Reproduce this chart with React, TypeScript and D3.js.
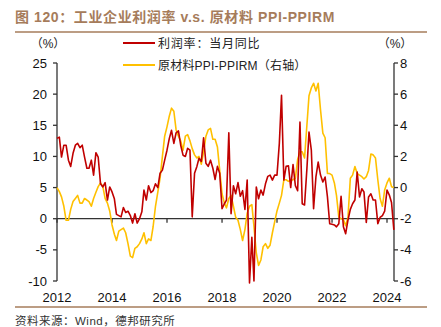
import React from "react";
import * as d3 from "d3";

const startMonth = new Date(2012, 0, 1);

const profitYoY: number[] = [
  12.9, 13.1, 9.9, 11.8, 11.8, 9.4, 8.4, 10.5, 11.8, 12.1, 11.4, 11.8,
  9.9, 8.1, 8.1, 9.4, 7.0, 10.6, 9.9, 5.6, 5.1, 5.8, 3.0, 5.1,
  4.3, 3.2, 0.7, 0.5, 0.3, 1.8, 1.0, 1.2, 0.5, -0.7, 0.8, -0.7,
  0.0, 1.1, 4.6, 3.0, 5.3, 4.2, 4.5, 5.6, 5.0, 7.3, 7.8, 9.4,
  11.0, 12.9, 14.2, 12.1, 13.8, 14.1, 11.8, 10.2, 10.0, 11.3, 11.0, 0.3,
  7.3, 8.4, 9.7, 9.2, 13.0, 8.9, 8.4, 9.4, 8.1, 6.3, 8.4, 7.3,
  1.6, 2.4, 3.0, 13.8, 0.8, 5.3, 4.0, 5.8, 3.6, 4.5, 1.5, 6.2,
  -10.3, -3.0, -10.0, 5.1, 3.2, 4.6, 3.8, 5.6, 6.8, 7.0, 6.2, 7.0,
  7.0, 12.1, 19.8, 6.2, 8.4, 8.5, 5.0, 8.7, 5.3, 4.5, 15.5, 2.4,
  2.2, 8.0, 13.9, 11.0, 1.6, 6.7, 9.1, 7.0, 5.9, 6.7, 3.5, -0.8,
  -0.9, -1.0, -1.3, -0.8, 3.6, -1.3, -2.4, -0.2, 1.5, 2.4, 3.0, 7.5,
  3.5, 4.8, 4.3, -0.6, 3.5, 4.0, 3.0, 3.0, -0.8, 0.2, 0.5, 1.2,
  4.6, 3.8, 2.6, -1.8,
];

const ppiPpirm: number[] = [
  0.0, -0.26, -0.6, -1.2, -2.1, -2.1, -1.4, -0.9, -0.7, -0.5, -1.0, -1.0,
  -0.7, -0.8, -0.9, -1.2, -0.7, -0.3, 0.06, 0.3, 0.06, -0.7, -1.0, -1.5,
  -2.4, -3.0, -3.4, -2.8, -2.7, -2.6, -2.9, -3.6, -4.4, -4.5, -3.9, -3.8,
  -3.6, -3.3, -2.9, -3.6, -3.3, -3.4, -2.5, -1.2, -0.3, 0.6, 2.0, 3.3,
  3.9, 4.6, 5.1, 4.9, 3.7, 3.3, 3.0, 2.4, 3.3, 3.4, 3.0, 2.5,
  2.1, 1.9, 2.0, 1.5, 2.3, 3.3, 3.7, 3.8, 3.1, 3.1, 2.6, 1.1,
  -0.4, -1.0, -1.3, -0.7, -0.5, -1.2, -1.9, -2.1, -2.7, -3.4, -2.7, -1.65,
  -1.2, -1.1, -2.5, -4.2, -5.0, -4.65, -3.8, -3.6, -3.9, -3.7, -2.9, -2.2,
  -1.5, -1.0, -0.5, 0.5, 0.5, 0.4, 0.45, 0.5, 0.6, 1.8, 2.3, 2.3,
  1.9, 4.0, 5.9, 6.4, 6.7, 6.2, 6.7, 5.0, 3.5, 3.2, 0.9, 0.9,
  0.8, 0.3, -0.5, -1.9, -2.0, -2.05, -2.45, -1.9, 0.6, 0.8, 1.35, 0.9,
  0.8, 0.7, 0.55, 0.7, 1.1, 2.15, 2.1, 1.9, 0.5, -0.7, -1.2, -0.15,
  0.3, 0.6, 0.06, 0.0,
];

const leftTicks = [25, 20, 15, 10, 5, 0, -5, -10];
const rightTicks = [8, 6, 4, 2, 0, -2, -4, -6];
const yearTicks = [2012, 2014, 2016, 2018, 2020, 2022, 2024];

const titleText = "图 120：工业企业利润率 v.s. 原材料 PPI-PPIRM";
const legendRed = "利润率：当月同比";
const legendYellow = "原材料PPI-PPIRM（右轴）";
const sourceText = "资料来源：Wind，德邦研究所";

const RED = "#C00000";
const YELLOW = "#FFC000";
const BROWN = "#A67C5B";
const FONT = "'Liberation Sans', Arial, 'Noto Sans CJK SC', sans-serif";

export default function App() {
  const W = 441, H = 327;
  const left = 57, right = 394, top = 63, bottom = 281;

  const months = profitYoY.map((_, i) => d3.timeMonth.offset(startMonth, i));

  const x = d3.scaleTime()
    .domain([new Date(2012, 0, 1), new Date(2024, 0, 1)])
    .range([left, 387]);
  const yL = d3.scaleLinear().domain([-10, 25]).range([bottom, top]);
  const yR = d3.scaleLinear().domain([-6, 8]).range([bottom, top]);

  const lineL = d3.line<number>()
    .x((_, i) => x(months[i]))
    .y((d) => yL(d));
  const lineR = d3.line<number>()
    .x((_, i) => x(months[i]))
    .y((d) => yR(d));

  const zeroY = yL(0);
  const axisColor = "#333";

  return (
    <svg width={W} height={H} style={{ position: "absolute", left: 0, top: 0, background: "#fff" }}
      fontFamily={FONT}>
      <rect x={0} y={0} width={W} height={H} fill="#fff" />
      <text x={15} y={22} fontSize={14} fontWeight="bold" fill={BROWN} letterSpacing={0.6}>{titleText}</text>
      <line x1={15} x2={427} y1={32} y2={32} stroke={BROWN} strokeWidth={1.5} />

      {/* units */}
      <text x={48} y={47.5} fontSize={12} textAnchor="middle" fill="#222">（%）</text>
      <text x={395} y={47.5} fontSize={12} textAnchor="middle" fill="#222">（%）</text>

      {/* legend */}
      <line x1={123} x2={155} y1={43} y2={43} stroke={RED} strokeWidth={2} />
      <text x={158} y={47.5} fontSize={12} fill="#222" letterSpacing={0.8}>{legendRed}</text>
      <line x1={123} x2={155} y1={65} y2={65} stroke={YELLOW} strokeWidth={2} />
      <text x={158} y={69.5} fontSize={12} fill="#222" letterSpacing={0.2}>{legendYellow}</text>

      {/* left axis */}
      <line x1={left} x2={left} y1={top} y2={bottom} stroke={axisColor} strokeWidth={1.3} />
      {leftTicks.map((t) => (
        <g key={"l" + t}>
          <line x1={left - 4} x2={left} y1={yL(t)} y2={yL(t)} stroke={axisColor} strokeWidth={1.3} />
          <text x={47} y={yL(t) + 4.5} fontSize={13} textAnchor="end" fill="#111">{t}</text>
        </g>
      ))}

      {/* right axis */}
      <line x1={right} x2={right} y1={top} y2={bottom} stroke={axisColor} strokeWidth={1.3} />
      {rightTicks.map((t) => (
        <g key={"r" + t}>
          <line x1={right} x2={right + 4} y1={yR(t)} y2={yR(t)} stroke={axisColor} strokeWidth={1.3} />
          <text x={400} y={yR(t) + 4.5} fontSize={13} textAnchor="start" fill="#111">{t}</text>
        </g>
      ))}

      {/* zero line with year ticks */}
      <line x1={left} x2={right} y1={zeroY} y2={zeroY} stroke={axisColor} strokeWidth={1.3} />
      {yearTicks.map((yr) => {
        const xx = x(new Date(yr, 0, 1));
        return (
          <g key={"y" + yr}>
            <line x1={xx} x2={xx} y1={zeroY} y2={zeroY + 4} stroke={axisColor} strokeWidth={1.3} />
            <text x={xx} y={301.5} fontSize={13} textAnchor="middle" fill="#111">{yr}</text>
          </g>
        );
      })}

      {/* series */}
      <path d={lineR(ppiPpirm) || ""} fill="none" stroke={YELLOW} strokeWidth={1.6} strokeLinejoin="round" />
      <path d={lineL(profitYoY) || ""} fill="none" stroke={RED} strokeWidth={1.6} strokeLinejoin="round" />

      <line x1={15} x2={427} y1={307} y2={307} stroke={BROWN} strokeWidth={1.5} />
      <text x={15} y={325} fontSize={11.5} fill="#333" letterSpacing={0.5}>{sourceText}</text>
    </svg>
  );
}
